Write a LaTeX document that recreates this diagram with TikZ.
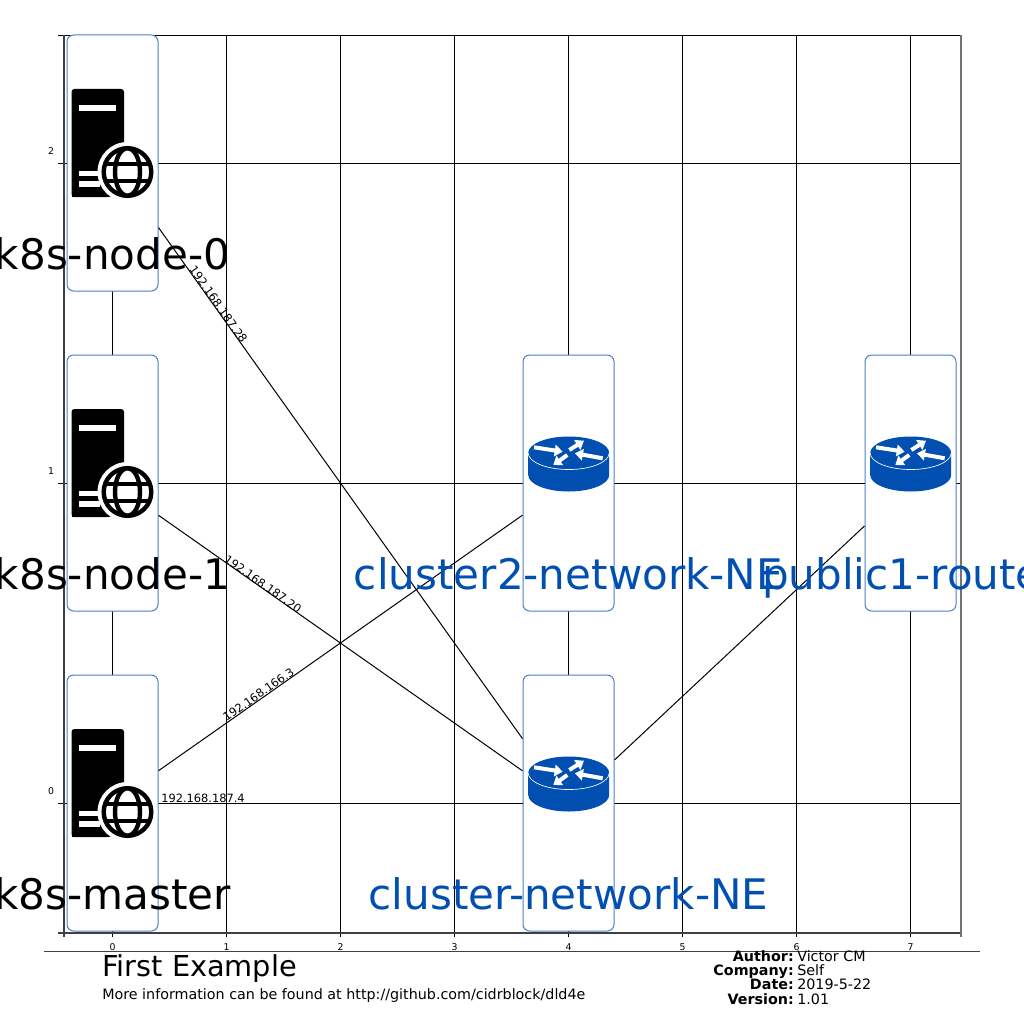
\documentclass[tikz,border=0pt]{standalone}
\usepackage{fontspec}
\setmainfont{DejaVu Sans}
\usetikzlibrary{arrows.meta}
\definecolor{routerblue}{HTML}{004FB1}
\definecolor{boxblue}{HTML}{4A80C8}
\tikzset{
  devicebox/.style={shape=rectangle, draw=boxblue, fill=white, line width=0.75pt, rounded corners=5pt, inner sep=0pt, minimum width=68.25pt, minimum height=192pt},
  gridline/.style={draw=black, line width=0.75pt},
  spineline/.style={draw=black!75, line width=1.5pt},
  link/.style={-, draw=black, line width=0.75pt},
  bigtext/.style={font=\fontsize{31.55pt}{36pt}\selectfont, anchor=base, inner sep=0pt},
  linktext/.style={font=\fontsize{8.55pt}{10pt}\selectfont, inner sep=0pt},
  ticktext/.style={font=\fontsize{7pt}{8pt}\selectfont, anchor=base, inner sep=0pt},
  foottext/.style={font=\fontsize{10.72pt}{12pt}\selectfont, anchor=base west, inner sep=0pt},
  footkey/.style={font=\fontsize{10.72pt}{12pt}\selectfont\bfseries, anchor=base east, inner sep=0pt},
  pics/servericon/.style={code={
    \fill[black, rounded corners=2.2pt] (-41,-74) -- (11.5,-74) -- (11.5,24) -- (-2,34) -- (-41,34) -- cycle;
    \fill[black] (-41,20) rectangle (-2,34);
    \fill[white] (-33.5,-57.7) rectangle (3.5,-52.3);
    \fill[white] (-33.5,7.7) rectangle (-12.5,13);
    \fill[white] (-33.5,18.3) rectangle (-12.5,23.7);
    \fill[white] (15,9) circle (30);
    \draw[black, line width=3.3pt] (15,9) circle (23.8);
    \draw[black, line width=3.3pt] (15,9) ellipse (12.5 and 23.8);
    \draw[black, line width=3pt] (-5.5,0.5) -- (35.5,0.5);
    \draw[black, line width=3pt] (-5.5,17.5) -- (35.5,17.5);
  }},
  pics/routericon/.style={code={
    \fill[routerblue] (-40.3,-30) -- (-40.3,-8) arc[start angle=180, end angle=0, x radius=40.5, y radius=16.5] -- (40.7,-30) arc[start angle=0, end angle=-180, x radius=40.5, y radius=16.5] -- cycle;
    \draw[white, line width=0.5pt] (-40.3,-30) arc[start angle=180, end angle=0, x radius=40.5, y radius=16.5];
    \draw[white, line width=3pt, -{Triangle[width=8.5pt, length=6pt]}] (-34.5,-35.7) -- (-5.8,-31.3);
    \draw[white, line width=3pt, -{Triangle[width=8.5pt, length=6pt]}] (0.8,-33) -- (15.5,-42.3);
    \draw[white, line width=3pt, -{Triangle[width=8.5pt, length=6pt]}] (34.2,-24.7) -- (6.5,-29.7);
    \draw[white, line width=3pt, -{Triangle[width=8.5pt, length=6pt]}] (-1.2,-28) -- (-15.2,-18);
  }}
}
\begin{document}
\begin{tikzpicture}[x=0.75pt, y=-0.75pt]
\useasboundingbox (0,0) rectangle (1024,1024);
% grid
\draw[gridline] (112,35) -- (112,937);
\draw[gridline] (226,35) -- (226,937);
\draw[gridline] (340,35) -- (340,937);
\draw[gridline] (454,35) -- (454,937);
\draw[gridline] (568,35) -- (568,937);
\draw[gridline] (682,35) -- (682,937);
\draw[gridline] (796,35) -- (796,937);
\draw[gridline] (910,35) -- (910,937);
\draw[gridline] (58,163) -- (961,163);
\draw[gridline] (58,483) -- (961,483);
\draw[gridline] (58,803) -- (961,803);
\draw[gridline] (58,35.5) -- (961,35.5);
\draw[spineline] (58,932.5) -- (961,932.5);
\draw[spineline] (64,35) -- (64,937);
\draw[spineline, draw=black!55] (961,35) -- (961,937);
% tick labels
\node[ticktext] (tickx0) at (112.5,950) {0};
\node[ticktext] (tickx1) at (226.5,950) {1};
\node[ticktext] (tickx2) at (340.5,950) {2};
\node[ticktext] (tickx3) at (454.5,950) {3};
\node[ticktext] (tickx4) at (568.5,950) {4};
\node[ticktext] (tickx5) at (682.5,950) {5};
\node[ticktext] (tickx6) at (796.5,950) {6};
\node[ticktext] (tickx7) at (910.5,950) {7};
\node[ticktext] (ticky0) at (51,794.5) {0};
\node[ticktext] (ticky1) at (51,474.5) {1};
\node[ticktext] (ticky2) at (51,154.5) {2};
% devices
\node[devicebox] (node0) at (112.5,163) {};
\node[devicebox] (node1) at (112.5,483) {};
\node[devicebox] (master) at (112.5,803) {};
\node[devicebox] (cluster2) at (568.5,483) {};
\node[devicebox] (clusternet) at (568.5,803) {};
\node[devicebox] (public1) at (910.5,483) {};
% links
\path [link] (node0) edge (clusternet);
\path [link] (node1) edge (clusternet);
\path [link] (master) edge (cluster2);
\path [link] (master) edge (clusternet);
\path [link] (cluster2) edge (public1);
\path [link] (clusternet) edge (public1);
% icons
\pic at (node0) {servericon};
\pic at (node1) {servericon};
\pic at (master) {servericon};
\pic at (cluster2) {routericon};
\pic at (clusternet) {routericon};
\pic at (public1) {routericon};
% device names
\node[bigtext] (node0name) at (112.5,269) {k8s-node-0};
\node[bigtext] (node1name) at (112.5,589) {k8s-node-1};
\node[bigtext] (mastername) at (112.5,909) {k8s-master};
\node[bigtext, text=routerblue] (cluster2name) at (568.5,589) {cluster2-network-NE};
\node[bigtext, text=routerblue] (clusternetname) at (568.5,909) {cluster-network-NE};
\node[bigtext, text=routerblue] (public1name) at (910.5,589) {public1-router};
% link labels
\node[linktext, rotate=-54.6] (ip28) at (218.5,304.5) {192.168.187.28};
\node[linktext, rotate=-35] (ip20) at (263,584) {192.168.187.20};
\node[linktext, rotate=35] (ip3) at (258.5,694.5) {192.168.166.3};
\node[linktext, anchor=base west] (ip4) at (161,802) {192.168.187.4};
% footer
\draw[spineline, line width=0.9pt] (44,951.5) -- (980,951.5);
\node[foottext, font=\fontsize{21.6pt}{24pt}\selectfont] (title) at (102,976) {First Example};
\node[foottext] (moreinfo) at (102,999) {More information can be found at http://github.com/cidrblock/dld4e};
\node[footkey] (authorkey) at (794,961) {Author:};
\node[foottext] (authorval) at (797,961) {Victor CM};
\node[footkey] (companykey) at (794,975) {Company:};
\node[foottext] (companyval) at (797,975) {Self};
\node[footkey] (datekey) at (794,989) {Date:};
\node[foottext] (dateval) at (797,989) {2019-5-22};
\node[footkey] (versionkey) at (794,1004) {Version:};
\node[foottext] (versionval) at (797,1004) {1.01};
\end{tikzpicture}
\end{document}
